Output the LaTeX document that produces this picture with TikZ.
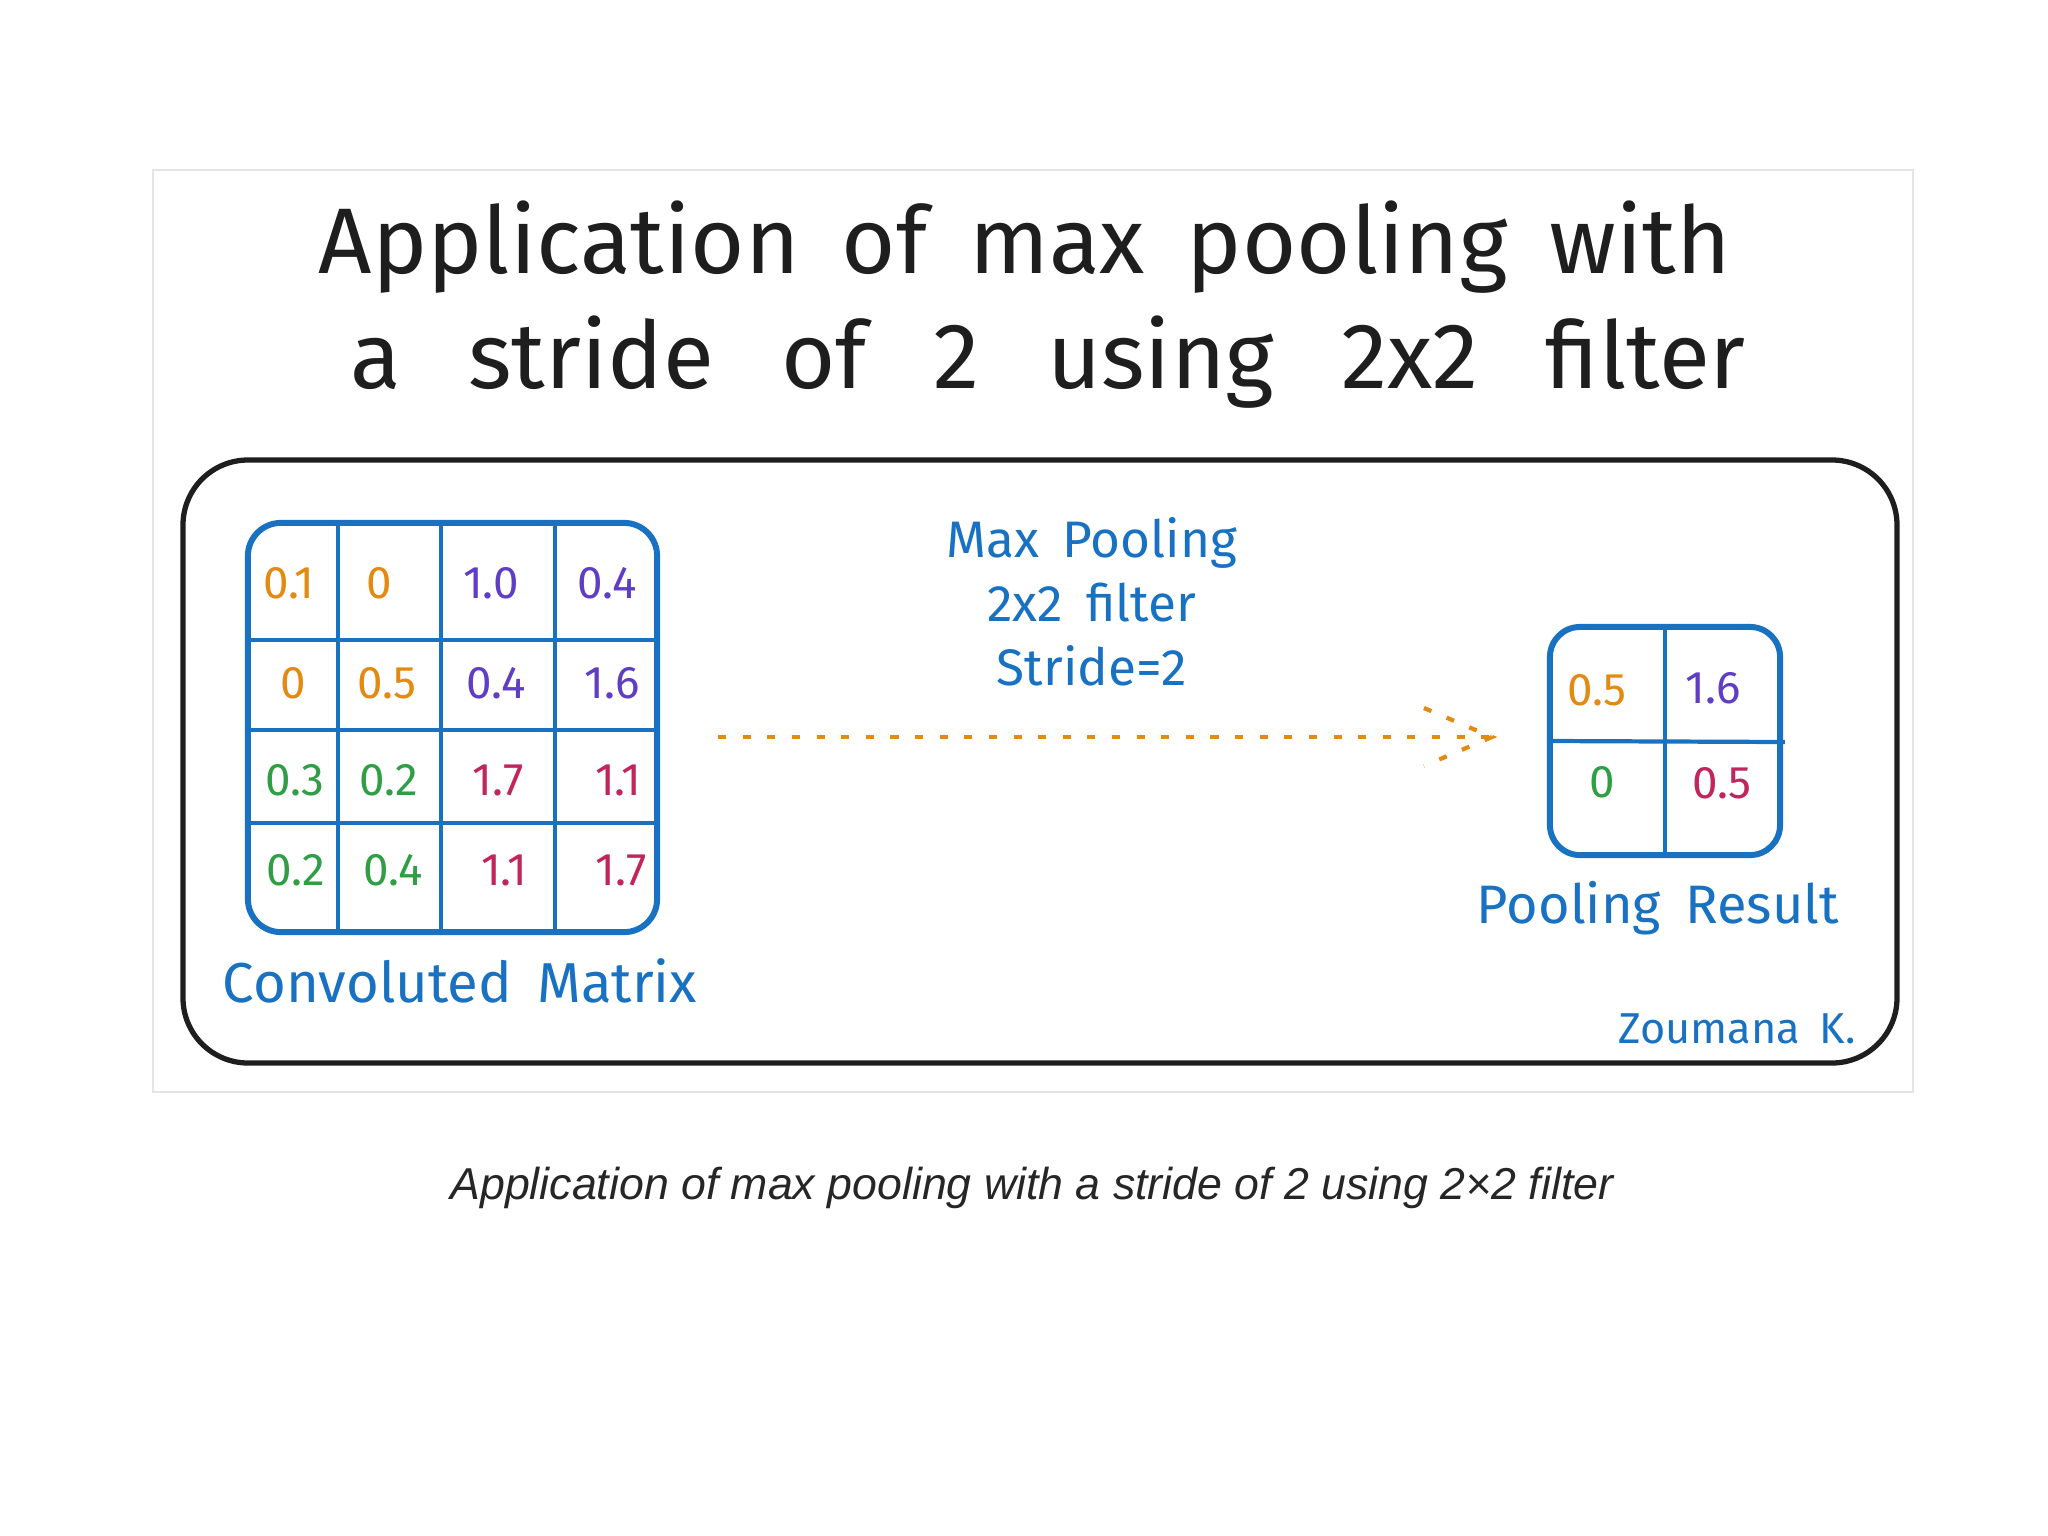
\documentclass[tikz,border=0pt]{standalone}
\usepackage{fontspec}
\setmainfont{Fira Sans}
\newfontfamily\capfont{Liberation Sans}
\usetikzlibrary{calc}
\definecolor{exblue}{HTML}{1971C2}
\definecolor{exorange}{HTML}{E38A12}
\definecolor{expurple}{HTML}{5F3DC4}
\definecolor{exgreen}{HTML}{2F9E44}
\definecolor{exred}{HTML}{C2255C}
\definecolor{exblack}{HTML}{1E1E1E}
\newcommand{\widesp}{\spaceskip 0.45em\relax}
\newcommand{\widersp}{\spaceskip 0.72em\relax}
\begin{document}
\begin{tikzpicture}[x=0.01cm,y=-0.01cm,
  cell/.style={font={\fontsize{13}{15}\selectfont}, anchor=center, inner sep=0pt},
  oc/.style={cell, text=exorange},
  pc/.style={cell, text=expurple},
  gc/.style={cell, text=exgreen},
  rc/.style={cell, text=exred},
  gridbox/.style={draw=exblue, line width=1.7pt, rounded corners=0.33cm, inner sep=0pt, outer sep=0pt},
  gridline/.style={draw=exblue, line width=1.2pt},
  bluelabel/.style={text=exblue, inner sep=0pt, anchor=base},
  dotline/.style={draw=exorange, line width=1.2pt, dash pattern=on 2.3pt off 4.7pt},
  titletext/.style={text=exblack, inner sep=0pt, anchor=base}
]
\useasboundingbox (0,0) rectangle (2048,1536);
\fill[white] (0,0) rectangle (2048,1536);

% light image frame
\draw[black!10, line width=0.6pt] (153,170) rectangle (1913,1092);

% title
\node[titletext, font={\fontsize{26.5}{32}\selectfont\widesp}] (title1) at (1025,273) {Application of max pooling with};
\node[titletext, font={\fontsize{26.5}{32}\selectfont\widersp}] (title2) at (1048,388) {a stride of 2 using 2x2 filter};

% outer panel
\draw[exblack, line width=1.5pt, rounded corners=0.65cm] (183,460) rectangle (1897,1063);

% convoluted matrix
\node[gridbox, minimum width=4.09cm, minimum height=4.09cm] (mat) at (452.5,727.5) {};
\draw[gridline] (338,523) -- (338,932);
\draw[gridline] (441,521) -- (441,932);
\draw[gridline] (555,521) -- (555,932);
\draw[gridline] (248,640) -- (655,640);
\draw[gridline] (248,730) -- (657,730);
\draw[gridline] (248,823) -- (657,823);

\node[oc] (c11) at (289,583) {0.1};
\node[oc] (c12) at (379,583) {0};
\node[pc] (c13) at (491,583) {1.0};
\node[pc] (c14) at (607,583) {0.4};
\node[oc] (c21) at (293,683) {0};
\node[oc] (c22) at (387,683) {0.5};
\node[pc] (c23) at (496,683) {0.4};
\node[pc] (c24) at (612,683) {1.6};
\node[gc] (c31) at (295,780) {0.3};
\node[gc] (c32) at (389,780) {0.2};
\node[rc] (c33) at (498,780) {1.7};
\node[rc] (c34) at (618,780) {1.1};
\node[gc] (c41) at (296,870) {0.2};
\node[gc] (c42) at (393,870) {0.4};
\node[rc] (c43) at (504,870) {1.1};
\node[rc] (c44) at (621,870) {1.7};

\node[bluelabel, font={\fontsize{16}{19}\selectfont\widesp}] (matlabel) at (460,1002) {Convoluted Matrix};

% pooling description
\node[text=exblue, inner sep=0pt, align=center, font={\fontsize{14.6}{18.2}\selectfont\widesp}] (desc) at (1092,602) {Max Pooling\\2x2 filter\\Stride=2};

% pooling result
\node[gridbox, minimum width=2.30cm, minimum height=2.28cm, rounded corners=0.3cm] (res) at (1665,741) {};
\draw[gridline] (res.north) -- (res.south);
\draw[gridline] (res.west) -- ++(235,1);
\node[oc] (r11) at (1597,690) {0.5};
\node[pc] (r12) at (1713,688) {1.6};
\node[gc] (r21) at (1602,782) {0};
\node[rc] (r22) at (1722,783) {0.5};

\node[bluelabel, font={\fontsize{15.4}{18}\selectfont\widesp}] (reslabel) at (1658,923) {Pooling Result};

% arrow
\path (mat.east) ++(61,9.5) coordinate (astart);
\path (res.west) ++(-48,-4) coordinate (tip);
\draw[dotline] (astart) -- (tip);
\draw[dotline] ($(tip)+(-78,-29)$) -- ($(tip)+(-10,0)$) -- ($(tip)+(-78,29)$);

% author
\node[bluelabel, font={\fontsize{12.3}{14}\selectfont\widesp}] (author) at (1737,1043) {Zoumana K.};

% caption
\node[text=black!85, inner sep=0pt, anchor=base, font={\capfont\itshape\fontsize{12.7}{15}\selectfont}] (caption) at (1032,1199) {Application of max pooling with a stride of 2 using 2×2 filter};
\end{tikzpicture}
\end{document}
